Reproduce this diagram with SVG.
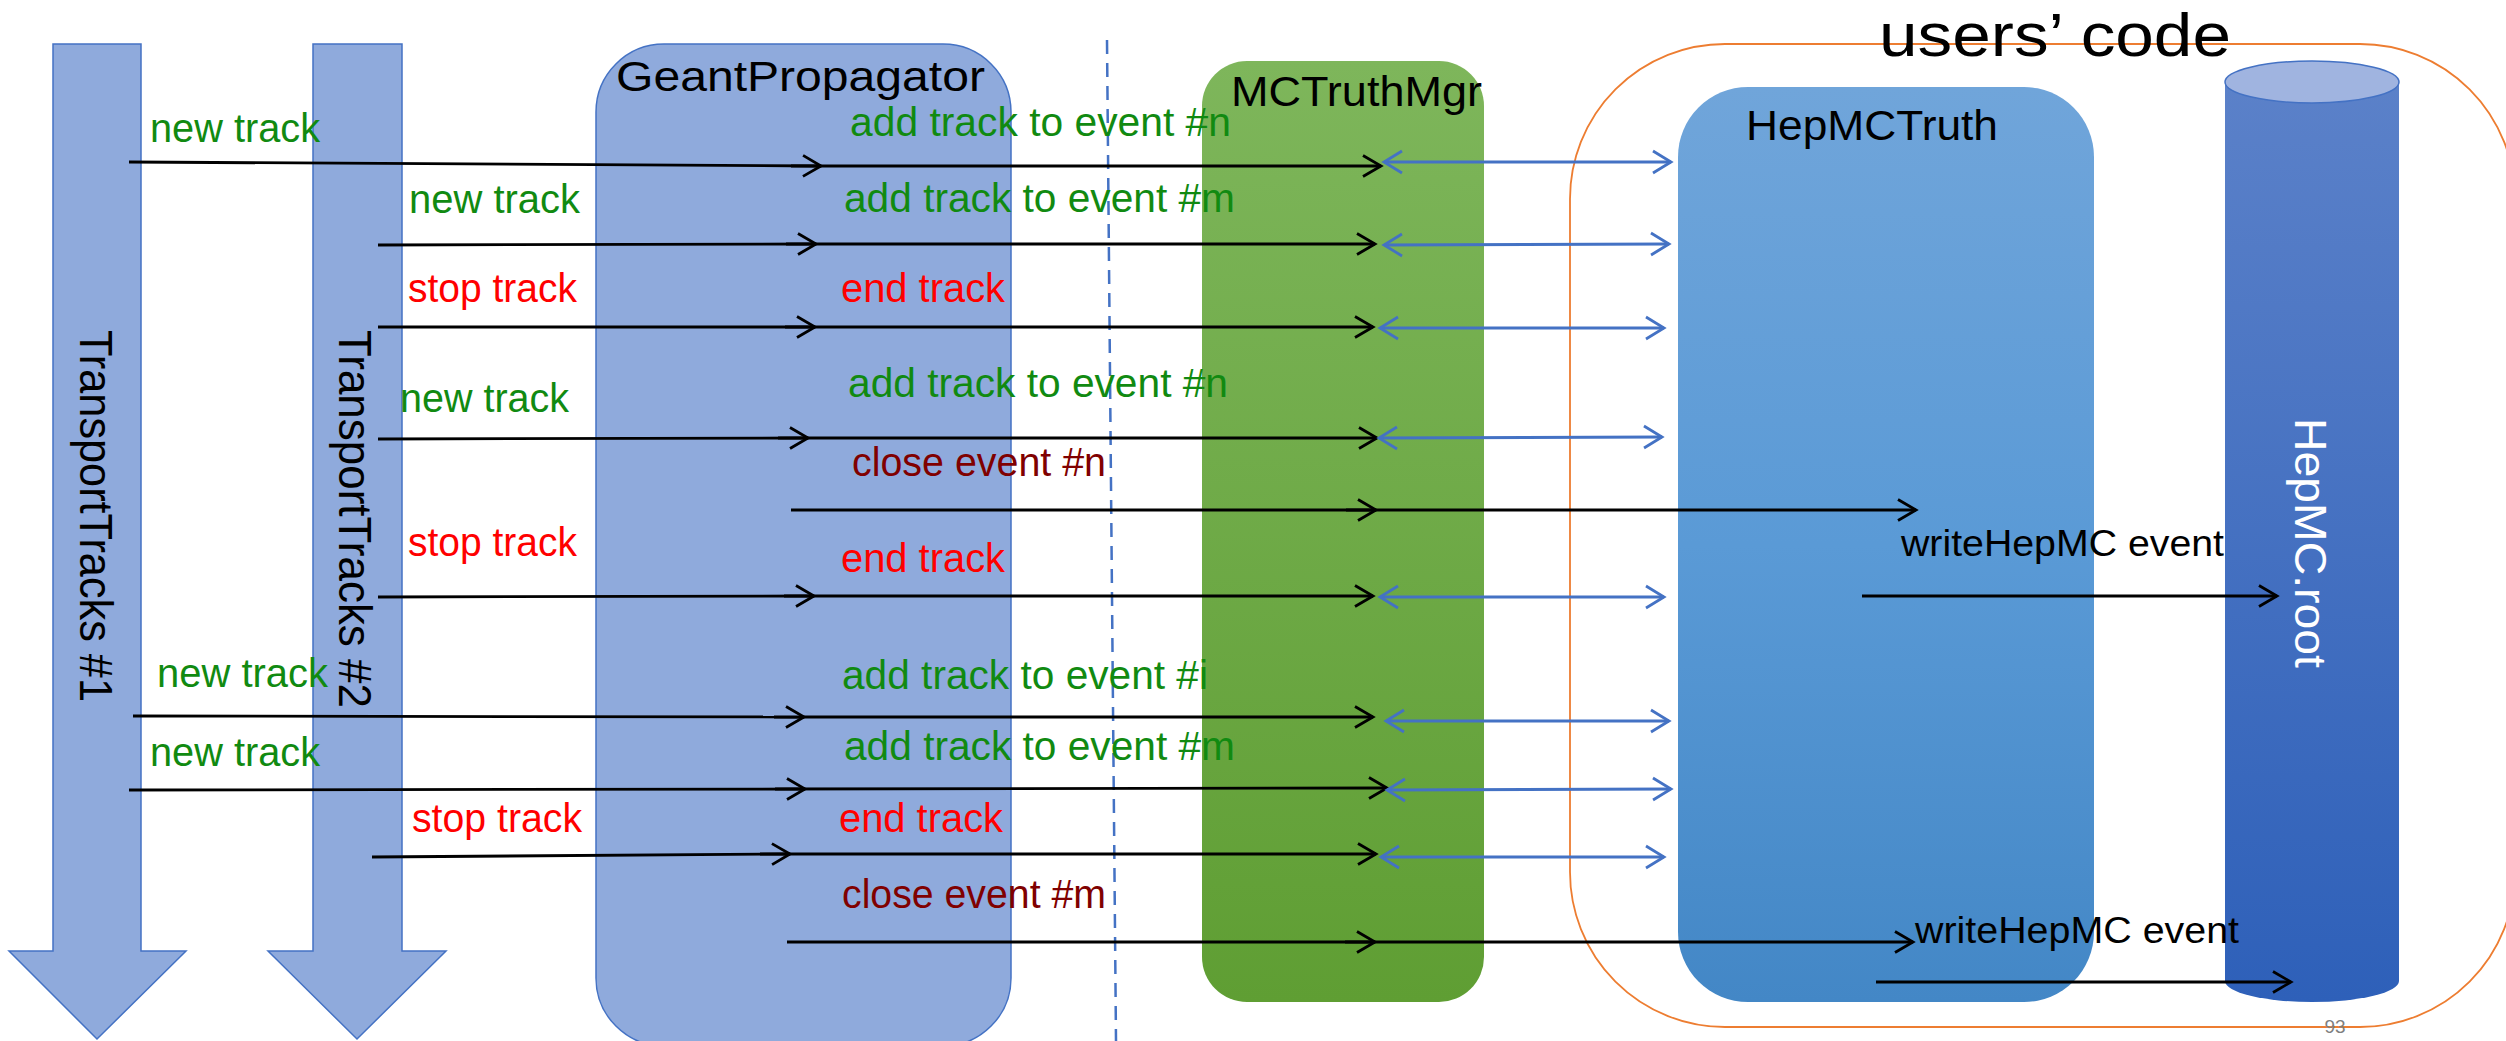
<svg xmlns="http://www.w3.org/2000/svg" width="2506" height="1041" viewBox="0 0 2506 1041">
<style>
text{font-family:"Liberation Sans",Arial,sans-serif}
.lbl{font-size:40px}
.g{fill:#118A11}
.r{fill:#FF0000}
.dr{fill:#800000}
.title{font-size:42px;fill:#000}
.blk{stroke:#000;stroke-width:2.8;fill:none;marker-end:url(#ah)}
.blu{stroke:#4472C4;stroke-width:2.8;fill:none;marker-start:url(#bh);marker-end:url(#bh)}
</style>
<defs>
<marker id="ah" markerUnits="userSpaceOnUse" markerWidth="40" markerHeight="40" viewBox="-30 -20 40 40" refX="0" refY="0" orient="auto" overflow="visible">
<path d="M-18,-10.5 L0,0 L-18,10.5" fill="none" stroke="#000" stroke-width="2.8"/>
</marker>
<marker id="bh" markerUnits="userSpaceOnUse" markerWidth="40" markerHeight="40" viewBox="-30 -20 40 40" refX="0" refY="0" orient="auto-start-reverse" overflow="visible">
<path d="M-18,-11 L0,0 L-18,11" fill="none" stroke="#4472C4" stroke-width="2.8"/>
</marker>
<linearGradient id="gMC" x1="0" y1="0" x2="0" y2="1">
<stop offset="0" stop-color="#7EB65B"/><stop offset="1" stop-color="#5F9E33"/>
</linearGradient>
<linearGradient id="gHep" x1="0" y1="0" x2="0" y2="1">
<stop offset="0" stop-color="#70A5DA"/><stop offset="0.5" stop-color="#5A9AD6"/><stop offset="1" stop-color="#4387C6"/>
</linearGradient>
<linearGradient id="gCyl" x1="0" y1="0" x2="0" y2="1">
<stop offset="0" stop-color="#5B81C9"/><stop offset="1" stop-color="#2E60B9"/>
</linearGradient>
</defs>

<g id="users-code">
<rect x="1570" y="44" width="945" height="983" rx="155" ry="155" fill="none" stroke="#ED7D31" stroke-width="1.8"/>
</g>

<g id="transport1">
<polygon points="53,44 141,44 141,951 186,951 97,1039 9,951 53,951" fill="#8FAADC" stroke="#4472C4" stroke-width="1.5"/>
<text transform="translate(80,330) rotate(90)" font-size="47" textLength="372" lengthAdjust="spacingAndGlyphs">TransportTracks #1</text>
</g>
<g id="transport2">
<polygon points="313,44 402,44 402,951 446,951 357,1039 268,951 313,951" fill="#8FAADC" stroke="#4472C4" stroke-width="1.5"/>
<text transform="translate(339,330) rotate(90)" font-size="47" textLength="378" lengthAdjust="spacingAndGlyphs">TransportTracks #2</text>
</g>

<g id="geant-propagator">
<rect x="596" y="44" width="415" height="1002" rx="68" ry="68" fill="#8FAADC" stroke="#4472C4" stroke-width="1.5"/>
<text class="title" x="616" y="91" textLength="369" lengthAdjust="spacingAndGlyphs">GeantPropagator</text>
</g>

<g id="divider">
<line x1="1107" y1="40" x2="1116" y2="1041" stroke="#4472C4" stroke-width="2.5" stroke-dasharray="14 9"/>
</g>

<g id="mctruthmgr">
<rect x="1202" y="61" width="282" height="941" rx="45" ry="45" fill="url(#gMC)"/>
<text class="title" x="1231" y="106" textLength="251" lengthAdjust="spacingAndGlyphs">MCTruthMgr</text>
</g>

<g id="hepmctruth">
<rect x="1678" y="87" width="416" height="915" rx="70" ry="70" fill="url(#gHep)"/>
<text class="title" x="1746" y="140" textLength="252" lengthAdjust="spacingAndGlyphs">HepMCTruth</text>
</g>

<g id="hepmc-root">
<path d="M2225,82 L2225,981 A87,21 0 0 0 2399,981 L2399,82 Z" fill="url(#gCyl)"/>
<ellipse cx="2312" cy="82" rx="87" ry="21" fill="#A0B4E0" stroke="#4472C4" stroke-width="1.5"/>
<text transform="translate(2295,418) rotate(90)" font-size="45" fill="#FFFFFF" textLength="250" lengthAdjust="spacingAndGlyphs">HepMC.root</text>
</g>

<text x="1879" y="56" font-size="62" textLength="352" lengthAdjust="spacingAndGlyphs">users’ code</text>

<g id="connectors">
<line class="blk" x1="129" y1="162" x2="821" y2="166"/>
<line class="blk" x1="791" y1="166" x2="1381" y2="166"/>
<line class="blk" x1="378" y1="245" x2="816" y2="244"/>
<line class="blk" x1="786" y1="244" x2="1375" y2="244"/>
<line class="blk" x1="378" y1="327" x2="815" y2="327"/>
<line class="blk" x1="785" y1="327" x2="1373" y2="327"/>
<line class="blk" x1="378" y1="439" x2="808" y2="438"/>
<line class="blk" x1="778" y1="438" x2="1377" y2="438"/>
<line class="blk" x1="791" y1="510" x2="1376" y2="510"/>
<line class="blk" x1="1346" y1="510" x2="1916" y2="510"/>
<line class="blk" x1="378" y1="597" x2="814" y2="596"/>
<line class="blk" x1="784" y1="596" x2="1373" y2="596"/>
<line class="blk" x1="133" y1="716" x2="804" y2="717"/>
<line class="blk" x1="774" y1="717" x2="1373" y2="717"/>
<line class="blk" x1="129" y1="790" x2="805" y2="789"/>
<line class="blk" x1="775" y1="789" x2="1387" y2="788"/>
<line class="blk" x1="372" y1="857" x2="790" y2="854"/>
<line class="blk" x1="760" y1="854" x2="1376" y2="854"/>
<line class="blk" x1="787" y1="942" x2="1375" y2="942"/>
<line class="blk" x1="1345" y1="942" x2="1913" y2="942"/>
<line class="blk" x1="1862" y1="596" x2="2277" y2="596"/>
<line class="blk" x1="1876" y1="982" x2="2291" y2="982"/>
<line class="blu" x1="1384" y1="162" x2="1671" y2="162"/>
<line class="blu" x1="1384" y1="245" x2="1669" y2="244"/>
<line class="blu" x1="1380" y1="328" x2="1664" y2="328"/>
<line class="blu" x1="1379" y1="438" x2="1662" y2="437"/>
<line class="blu" x1="1380" y1="597" x2="1664" y2="597"/>
<line class="blu" x1="1386" y1="721" x2="1669" y2="721"/>
<line class="blu" x1="1387" y1="790" x2="1671" y2="789"/>
<line class="blu" x1="1381" y1="857" x2="1664" y2="857"/>
</g>

<g id="labels">
<text class="lbl g" x="150" y="142" textLength="170" lengthAdjust="spacingAndGlyphs">new track</text>
<text class="lbl g" x="409" y="213" textLength="171" lengthAdjust="spacingAndGlyphs">new track</text>
<text class="lbl r" x="408" y="302" textLength="169" lengthAdjust="spacingAndGlyphs">stop track</text>
<text class="lbl g" x="400" y="412" textLength="169" lengthAdjust="spacingAndGlyphs">new track</text>
<text class="lbl r" x="408" y="556" textLength="169" lengthAdjust="spacingAndGlyphs">stop track</text>
<text class="lbl g" x="157" y="687" textLength="171" lengthAdjust="spacingAndGlyphs">new track</text>
<text class="lbl g" x="150" y="766" textLength="170" lengthAdjust="spacingAndGlyphs">new track</text>
<text class="lbl r" x="412" y="832" textLength="170" lengthAdjust="spacingAndGlyphs">stop track</text>

<text class="lbl g" x="850" y="136" textLength="381" lengthAdjust="spacingAndGlyphs">add track to event #n</text>
<text class="lbl g" x="844" y="212" textLength="391" lengthAdjust="spacingAndGlyphs">add track to event #m</text>
<text class="lbl r" x="841" y="302" textLength="164" lengthAdjust="spacingAndGlyphs">end track</text>
<text class="lbl g" x="848" y="397" textLength="380" lengthAdjust="spacingAndGlyphs">add track to event #n</text>
<text class="lbl dr" x="852" y="476" textLength="254" lengthAdjust="spacingAndGlyphs">close event #n</text>
<text class="lbl r" x="841" y="572" textLength="164" lengthAdjust="spacingAndGlyphs">end track</text>
<text class="lbl g" x="842" y="689" textLength="366" lengthAdjust="spacingAndGlyphs">add track to event #i</text>
<text class="lbl g" x="844" y="760" textLength="391" lengthAdjust="spacingAndGlyphs">add track to event #m</text>
<text class="lbl r" x="839" y="832" textLength="164" lengthAdjust="spacingAndGlyphs">end track</text>
<text class="lbl dr" x="842" y="908" textLength="264" lengthAdjust="spacingAndGlyphs">close event #m</text>

<text x="1901" y="556" font-size="36" textLength="323" lengthAdjust="spacingAndGlyphs">writeHepMC event</text>
<text x="1915" y="943" font-size="36" textLength="324" lengthAdjust="spacingAndGlyphs">writeHepMC event</text>

<text x="2335" y="1033" font-size="19" fill="#7F7F7F" text-anchor="middle">93</text>
</g>
</svg>
